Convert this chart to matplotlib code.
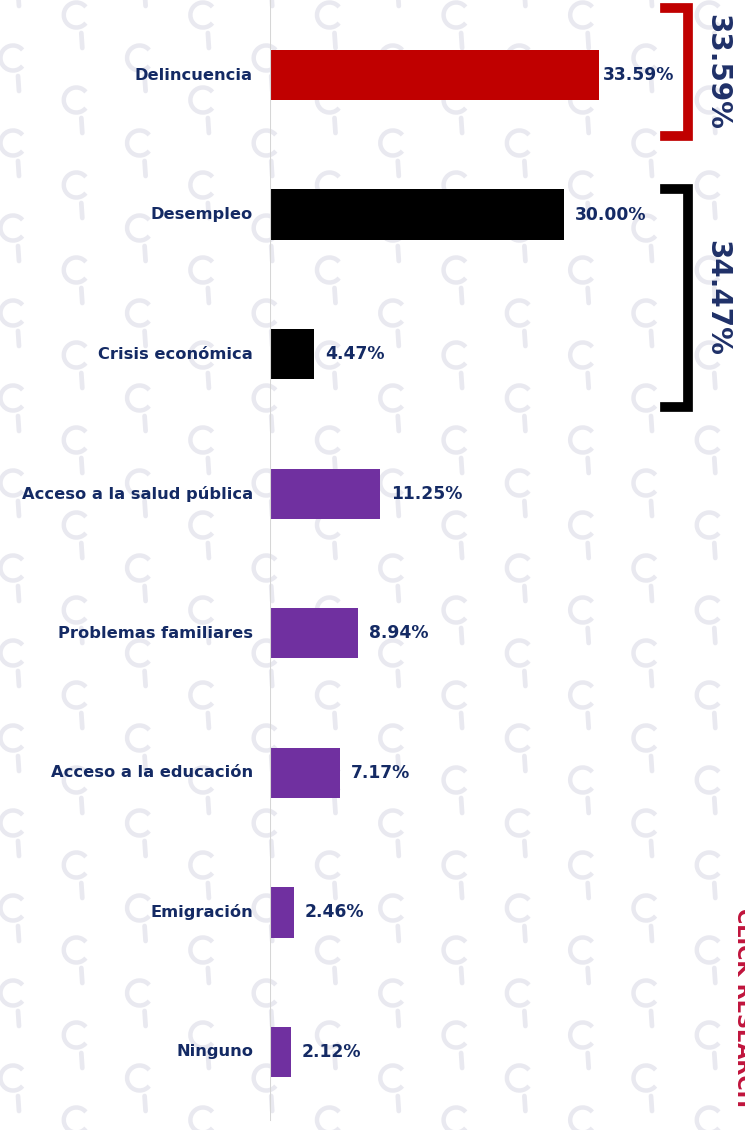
import numpy as np
import matplotlib.pyplot as plt
from matplotlib.patches import Arc

# Data
categories = ['Delincuencia', 'Desempleo', 'Crisis económica', 'Acceso a la salud pública',
              'Problemas familiares', 'Acceso a la educación', 'Emigración', 'Ninguno']
values = [33.59, 30.00, 4.47, 11.25, 8.94, 7.17, 2.46, 2.12]
bar_colors = ['#c00000', '#000000', '#000000', '#7030a0', '#7030a0', '#7030a0', '#7030a0', '#7030a0']
# groups of bars marked with a bracket: (first index, last index, colour)
groups = [(0, 0, '#c00000'), (1, 2, '#000000')]

navy = '#142a64'
W, H = 745, 1130

fig = plt.figure(figsize=(W / 100, H / 100), dpi=100)

# background watermark (pixel coordinates)
bg = fig.add_axes([0, 0, 1, 1], zorder=0)
bg.set_xlim(0, W)
bg.set_ylim(H, 0)
bg.axis('off')
wm = '#e9e9f0'
for k, cx in enumerate(np.arange(13, W + 40, 63.3)):
    y0 = 58 if k % 2 == 0 else 15
    for cy in np.arange(y0 - 85, H + 40, 85):
        bg.add_patch(Arc((cx, cy), 25, 25, theta1=40, theta2=320, color=wm, lw=3.2))
        bg.plot([cx + 5, cx + 6], [cy + 18, cy + 33], color=wm, lw=3.4, solid_capstyle='round')

# "CLICK RESEARCH" logo text, cut at right edge
bg.text(733, 908, 'CLICK RESEARCH', rotation=-90, color='#c0143c', fontsize=15,
        fontweight='bold', ha='left', va='top')

# main axes
x0 = 270
scale = 9.79  # px per %
ax = fig.add_axes([x0 / W, 0, (W - x0) / W, 1], zorder=1)
ax.patch.set_alpha(0)
ax.set_xlim(0, (W - x0) / scale)
step = 139.57
ax.set_ylim((H - 75) / step, -75 / step)
for s in ax.spines.values():
    s.set_visible(False)
ax.set_xticks([])
ax.set_yticks([])
ax.axvline(0, ymin=10 / H, ymax=1, color='#d6d6d6', lw=1.5)

ypos = np.arange(len(categories))
ax.barh(ypos, values, height=0.36, color=bar_colors)

for i, (c, v) in enumerate(zip(categories, values)):
    ax.annotate(c, (0, i), xytext=(-17, 0), textcoords='offset pixels', ha='right',
                va='center', color=navy, fontsize=11.7, fontweight='bold')
    pad = 4 if i == 0 else 11
    ax.annotate(f'{v:.2f}%', (v, i), xytext=(pad, 0), textcoords='offset pixels',
                ha='left', va='center', color=navy, fontsize=12.3, fontweight='bold')

# brackets
pads = [(-0.48, 0.44), (-0.18, 0.38)]
xv = (688 - x0) / scale
xt = (665 - x0) / scale
for (a, b, col), (pa, pb) in zip(groups, pads):
    top, bot = a + pa, b + pb
    ax.plot([xt, xv, xv, xt], [top, top, bot, bot], color=col, lw=7,
            solid_joinstyle='miter', clip_on=False)
    total = sum(values[a:b + 1])
    ax.text((717 - x0) / scale, (top + bot) / 2, f'{total:.2f}%', rotation=-90,
            ha='center', va='center', color='#1f3068', fontsize=20, fontweight='bold')

fig.savefig('out.png', dpi=100)
